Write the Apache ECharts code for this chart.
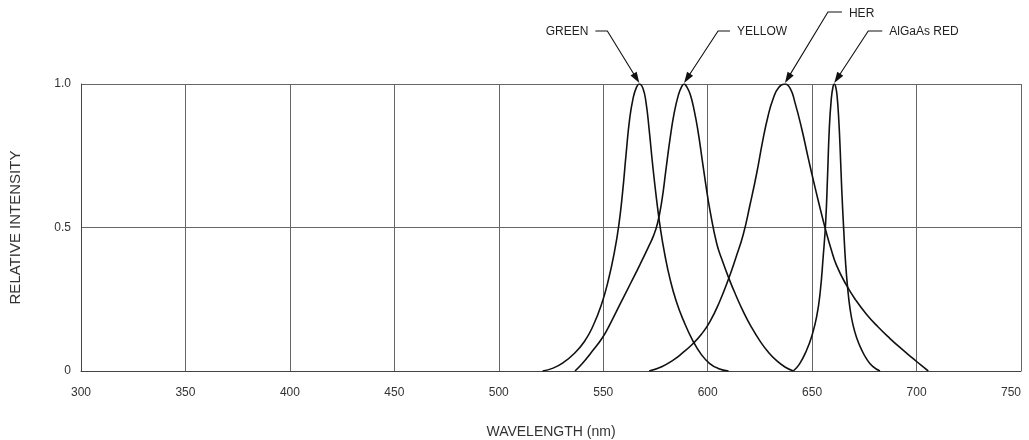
<!DOCTYPE html>
<html><head><meta charset="utf-8">
<script src="https://cdn.jsdelivr.net/npm/echarts@6/dist/echarts.min.js"></script>
<style>html,body{margin:0;padding:0;background:#fff}#c{width:1029px;height:440px}</style>
</head><body><div id="c"></div>
<script>
// ---- data (wavelength nm, relative intensity) ----
const seriesNames = ['GREEN', 'YELLOW', 'HER', 'AlGaAs RED'];
const greenData = [
  [521,0],[526,0.01],[531,0.03],[536,0.06],[541,0.103],[545,0.155],[549,0.228],[552.5,0.318],
  [555.5,0.42],[557.5,0.51],[559.3,0.625],[561,0.76],[562.6,0.875],[564.3,0.95],[566,0.99],[567.3,1.0],
  [569,0.985],[570.5,0.935],[572,0.84],[573.5,0.73],[575.5,0.60],[577.5,0.49],[579.5,0.405],
  [582,0.32],[585,0.242],[588.3,0.178],[592.8,0.107],[597,0.057],[601,0.026],[605,0.009],[610,0]
];
const yellowData = [
  [536.5,0],[540,0.026],[544,0.062],[549.6,0.116],[554,0.174],[558,0.232],[563,0.304],[567.6,0.371],
  [571.5,0.43],[574,0.47],[576,0.515],[578,0.59],[580,0.70],[582,0.81],[584,0.90],[586,0.962],
  [587.5,0.99],[588.7,1.0],[590,0.99],[591.6,0.965],[593.5,0.91],[595.5,0.83],[597.4,0.735],
  [599.3,0.64],[601.1,0.56],[604.3,0.445],[607,0.385],[610.2,0.322],[613.5,0.264],[617,0.208],
  [621,0.152],[625,0.105],[629,0.066],[633,0.036],[637,0.014],[641,0]
];
const herData = [
  [572,0],[578,0.015],[583.5,0.038],[588,0.063],[592.8,0.094],[597,0.128],[601.1,0.172],[605.5,0.238],
  [610.2,0.325],[613.5,0.395],[617,0.475],[620.3,0.58],[623.5,0.69],[626.3,0.80],[628.8,0.885],
  [631.3,0.948],[634,0.988],[637,1.0],[639.5,0.985],[641.8,0.935],[645,0.845],[648.2,0.74],
  [651.4,0.64],[654,0.562],[656.6,0.488],[659,0.427],[661.7,0.368],[666.5,0.298],[671,0.246],
  [676,0.198],[681.5,0.154],[687.3,0.113],[693,0.076],[698.4,0.043],[702,0.021],[705.6,0]
];
const algaasData = [
  [641,0],[644,0.025],[647.4,0.073],[650,0.125],[652.2,0.19],[653.8,0.27],[655.3,0.398],[656.5,0.52],
  [657.4,0.68],[658.2,0.84],[659.2,0.95],[660,0.99],[660.6,1.0],[661.3,0.99],[662,0.955],
  [662.8,0.87],[663.5,0.76],[664.2,0.63],[665.2,0.483],[666,0.38],[667,0.29],[668.2,0.215],
  [669.6,0.16],[671.5,0.112],[673.5,0.077],[676,0.043],[679,0.016],[682.5,0]
];
const allData = [greenData, yellowData, herData, algaasData];
const xTicks = [300, 350, 400, 450, 500, 550, 600, 650, 700, 750];
const yTicks = [0, 0.5, 1.0];

// ---- layout / style ----
const FONT = '"Liberation Sans", Arial, sans-serif';
const GRID_COLOR = '#666';
const CURVE_COLOR = '#111';
// callout geometry (pixel offsets from the peak tip)
const calloutLayout = [
  {dx: -32, dy: -52, hx: -12, gap: 7, ty: 1},
  {dx: 34, dy: -52, hx: 12, gap: 7, ty: 1},
  {dx: 43, dy: -71, hx: 14, gap: 7, ty: 2},
  {dx: 34, dy: -52, hx: 14, gap: 7, ty: 1}
];

const chart = echarts.init(document.getElementById('c'));
const option = {
  animation: false,
  backgroundColor: '#fff',
  grid: {left: 81, right: 8, top: 84, bottom: 69, containLabel: false, outerBoundsMode: 'none'},
  xAxis: {
    type: 'value', min: xTicks[0], max: xTicks[xTicks.length - 1], interval: xTicks[1] - xTicks[0],
    axisLine: {show: true, onZero: false, lineStyle: {color: '#444', width: 1}},
    axisTick: {show: false},
    axisLabel: {margin: 16, color: '#333', fontSize: 12, fontFamily: FONT, alignMaxLabel: 'right'},
    splitLine: {show: true, lineStyle: {color: GRID_COLOR, width: 1}},
    name: 'WAVELENGTH (nm)', nameLocation: 'middle', nameGap: 54,
    nameTextStyle: {color: '#333', fontSize: 14, fontFamily: FONT}
  },
  yAxis: {
    type: 'value', min: yTicks[0], max: yTicks[yTicks.length - 1], interval: yTicks[1] - yTicks[0],
    axisLine: {show: true, lineStyle: {color: '#444', width: 1}},
    axisTick: {show: false},
    axisLabel: {margin: 10, color: '#333', fontSize: 12, fontFamily: FONT,
      formatter: v => v === 0 ? '0' : v.toFixed(1)},
    splitLine: {show: true, lineStyle: {color: GRID_COLOR, width: 1}},
    name: 'RELATIVE INTENSITY', nameLocation: 'middle', nameGap: 58, nameRotate: 90,
    nameTextStyle: {color: '#333', fontSize: 15, fontFamily: FONT}
  },
  series: allData.map((d, i) => ({
    name: seriesNames[i], type: 'line', data: d, smooth: 0.5, showSymbol: false, symbol: 'none',
    lineStyle: {color: CURVE_COLOR, width: 1.6}, z: 3, silent: true
  }))
};
chart.setOption(option);

// ---- callouts computed from each series' peak ----
const graphics = [];
allData.forEach((d, i) => {
  let peak = d[0];
  d.forEach(p => { if (p[1] > peak[1]) peak = p; });
  const tip = chart.convertToPixel({gridIndex: 0}, peak);
  tip[1] -= 1;
  const L = calloutLayout[i];
  const bend = [tip[0] + L.dx, tip[1] + L.dy];
  const hEnd = [bend[0] + L.hx, bend[1]];
  const vx = tip[0] - bend[0], vy = tip[1] - bend[1];
  const len = Math.hypot(vx, vy);
  const ux = vx / len, uy = vy / len, nx = -uy, ny = ux;
  const aLen = 11, aW = 3.6;
  const base = [tip[0] - ux * aLen, tip[1] - uy * aLen];
  graphics.push({
    type: 'polyline', z: 10,
    shape: {points: [hEnd, bend, [tip[0] - ux * 8, tip[1] - uy * 8]]},
    style: {stroke: '#111', lineWidth: 1.1, fill: null}
  });
  graphics.push({
    type: 'polygon', z: 10,
    shape: {points: [tip, [base[0] + nx * aW, base[1] + ny * aW], [base[0] - nx * aW, base[1] - ny * aW]]},
    style: {fill: '#111', stroke: null}
  });
  const left = L.hx < 0;
  graphics.push({
    type: 'text', z: 10,
    x: hEnd[0] + (left ? -L.gap : L.gap), y: bend[1] + L.ty,
    style: {text: seriesNames[i], fill: '#222', font: '12px ' + FONT,
      align: left ? 'right' : 'left', verticalAlign: 'middle'}
  });
});
chart.setOption({graphic: graphics});
</script>
</body></html>
